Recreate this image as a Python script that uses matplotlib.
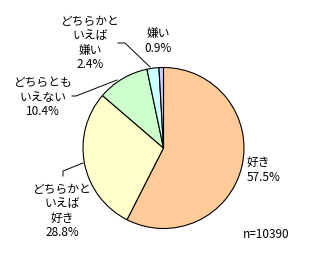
import matplotlib
matplotlib.use('Agg')
import matplotlib.pyplot as plt

plt.rcParams['font.family'] = ['Noto Sans CJK JP', 'DejaVu Sans']

labels = ['好き', 'どちらかと\nいえば\n好き', 'どちらとも\nいえない', 'どちらかと\nいえば\n嫌い', '嫌い']
values = [57.5, 28.8, 10.4, 2.4, 0.9]
colors = ['#FFCC99', '#FFFFCC', '#CCFFCC', '#CCFFFF', '#CCCCFF']
n_text = 'n=10390'

W, H = 321, 277
cx, cy, r = 163.5, 148, 80.5

fig = plt.figure(figsize=(W / 100, H / 100), dpi=100)
ax = fig.add_axes([(cx - r) / W, (H - cy - r) / H, 2 * r / W, 2 * r / H])
ax.pie(values, colors=colors, startangle=90, counterclock=False,
       wedgeprops=dict(edgecolor='black', linewidth=0.8))
ax.set_xlim(-1, 1)
ax.set_ylim(-1, 1)
ax.set_clip_on(False)


def d(px, py):
    # pixel -> data coords
    return (px - cx) / r, (cy - py) / r


fs = 8.5
label_pos = [(247, 170, 'left'), (62, 211, 'center'), (43, 97, 'center'),
             (90, 43, 'center'), (158, 41, 'center')]
for lab, v, (px, py, ha) in zip(labels, values, label_pos):
    x, y = d(px, py)
    ax.text(x, y, f'{lab}\n{v}%', ha=ha, va='center', fontsize=fs,
            linespacing=1.15, clip_on=False)

leaders = [
    [(83, 163), (63, 171), (63, 176)],
    [(72, 96), (76, 96), (117, 80)],
    [(118, 43), (125, 43), (150, 67)],
]
for pts in leaders:
    xs, ys = zip(*[d(px, py) for px, py in pts])
    ax.plot(xs, ys, color='black', linewidth=0.7, clip_on=False)

fig.text(266 / W, 1 - 235 / H, n_text, ha='center', va='center', fontsize=fs)

fig.savefig('out.png', dpi=100)
